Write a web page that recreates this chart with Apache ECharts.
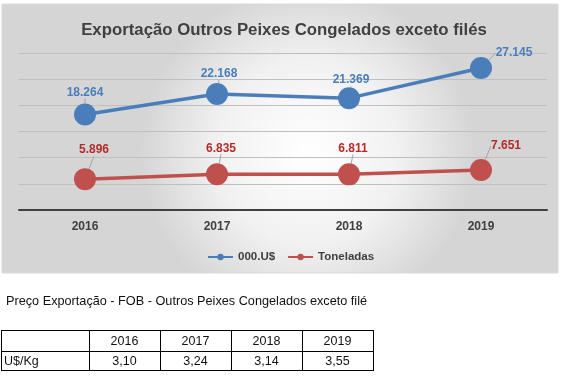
<!DOCTYPE html>
<html><head><meta charset="utf-8">
<script src="https://cdn.jsdelivr.net/npm/echarts@6/dist/echarts.min.js"></script>
<style>html,body{margin:0;padding:0;background:#fff}#c{width:570px;height:391px}</style>
</head><body><div id="c"></div>
<script>
// ---- data ----
const categories = ['2016', '2017', '2018', '2019'];
const serieUSD = [18264, 22168, 21369, 27145];      // 000.U$
const serieTon = [5896, 6835, 6811, 7651];          // Toneladas
const seriesNames = ['000.U$', 'Toneladas'];
const chartTitle = 'Exportação Outros Peixes Congelados exceto filés';
const tableTitle = 'Preço Exportação - FOB - Outros Peixes Congelados exceto filé';
const tableRowLabel = 'U$/Kg';
const tablePrices = ['3,10', '3,24', '3,14', '3,55'];
const yMin = 0, yMax = 30000, yStep = 5000;

// ---- styling / layout ----
const FONT = 'Liberation Sans';
const BLUE = '#4A7EBB', RED = '#C0504D';
const BLUE_TXT = '#4A7EBB', RED_TXT = '#B42B2B';
const labelOffsets = [
  [[0, 0], [2, 2], [2, 4], [33, 7]],
  [[9, -7], [4, -4], [4, -4], [25, -2]]
];
const fmt = v => (v / 1000).toFixed(3);

// table geometry
const colX = [1, 89, 160, 231, 302, 373];
const rowY = [330, 351, 370];

const graphic = [];
graphic.push({
  type: 'rect', z: -100, silent: true,
  shape: { x: 2, y: 4, width: 556, height: 269 },
  style: {
    fill: new echarts.graphic.RadialGradient(0.55, 0.55, 0.62, [
      { offset: 0, color: '#ffffff' },
      { offset: 0.55, color: '#f1f1f1' },
      { offset: 1, color: '#d5d5d5' }
    ]),
    stroke: '#d9d9d9', lineWidth: 1
  }
});
graphic.push({
  type: 'text', left: 6, top: 295,
  style: { text: tableTitle, font: '12.7px "' + FONT + '"', fill: '#111' }
});
// table lines
rowY.forEach(y => graphic.push({
  type: 'line', shape: { x1: colX[0], y1: y + 0.5, x2: colX[colX.length - 1] + 1, y2: y + 0.5 },
  style: { stroke: '#000', lineWidth: 1 }
}));
colX.forEach(x => graphic.push({
  type: 'line', shape: { x1: x + 0.5, y1: rowY[0], x2: x + 0.5, y2: rowY[rowY.length - 1] + 1 },
  style: { stroke: '#000', lineWidth: 1 }
}));
categories.forEach((c, i) => {
  const cx = (colX[i + 1] + colX[i + 2]) / 2;
  graphic.push({
    type: 'text', x: cx, y: (rowY[0] + rowY[1]) / 2 + 1,
    style: { text: c, font: '12.5px "' + FONT + '"', fill: '#111', align: 'center', verticalAlign: 'middle' }
  });
  graphic.push({
    type: 'text', x: cx, y: (rowY[1] + rowY[2]) / 2 + 1,
    style: { text: tablePrices[i], font: '12.5px "' + FONT + '"', fill: '#111', align: 'center', verticalAlign: 'middle' }
  });
});
graphic.push({
  type: 'text', x: colX[0] + 3, y: (rowY[1] + rowY[2]) / 2 + 1,
  style: { text: tableRowLabel, font: '12.5px "' + FONT + '"', fill: '#111', align: 'left', verticalAlign: 'middle' }
});

const chart = echarts.init(document.getElementById('c'), null, { renderer: 'canvas' });
chart.setOption({
  animation: false,
  backgroundColor: '#fff',
  textStyle: { fontFamily: FONT },
  title: {
    text: chartTitle, left: 279, top: 17, textAlign: 'center',
    textStyle: { fontFamily: FONT, fontSize: 16.8, fontWeight: 'bold', color: '#404040' }
  },
  legend: {
    left: 202, top: 246, itemWidth: 25, itemHeight: 8, itemGap: 12,
    textStyle: { fontFamily: FONT, fontSize: 11.5, fontWeight: 'bold', color: '#404040' },
    data: seriesNames
  },
  grid: { left: 19, right: 23, top: 53, bottom: 181 },
  xAxis: {
    type: 'category', data: categories, boundaryGap: true,
    axisLine: { lineStyle: { color: '#404040', width: 2 } },
    axisTick: { show: false },
    axisLabel: { margin: 11, fontFamily: FONT, fontSize: 12, fontWeight: 'bold', color: '#404040' }
  },
  yAxis: {
    type: 'value', min: yMin, max: yMax, interval: yStep,
    axisLine: { show: false }, axisTick: { show: false }, axisLabel: { show: false },
    splitLine: { lineStyle: { color: '#BFBFBF', width: 1 } }
  },
  series: [
    {
      name: seriesNames[0], type: 'line', data: serieUSD,
      symbol: 'circle', symbolSize: 22,
      lineStyle: { color: BLUE, width: 3.5 }, itemStyle: { color: BLUE },
      label: { show: true, position: 'top', distance: 5, formatter: p => fmt(p.value),
        fontFamily: FONT, fontSize: 12, fontWeight: 'bold', color: BLUE_TXT },
      labelLine: { show: true, lineStyle: { color: '#A6A6A6', width: 1 } }
    },
    {
      name: seriesNames[1], type: 'line', data: serieTon,
      symbol: 'circle', symbolSize: 22,
      lineStyle: { color: RED, width: 3.5 }, itemStyle: { color: RED },
      label: { show: true, position: 'top', distance: 5, formatter: p => fmt(p.value),
        fontFamily: FONT, fontSize: 12, fontWeight: 'bold', color: RED_TXT },
      labelLine: { show: true, lineStyle: { color: '#A6A6A6', width: 1 } }
    }
  ],
  labelLayout: function (params) {
    const o = labelOffsets[params.seriesIndex][params.dataIndex];
    return { dx: o[0], dy: o[1] };
  },
  graphic: graphic
});
</script>
</body></html>
